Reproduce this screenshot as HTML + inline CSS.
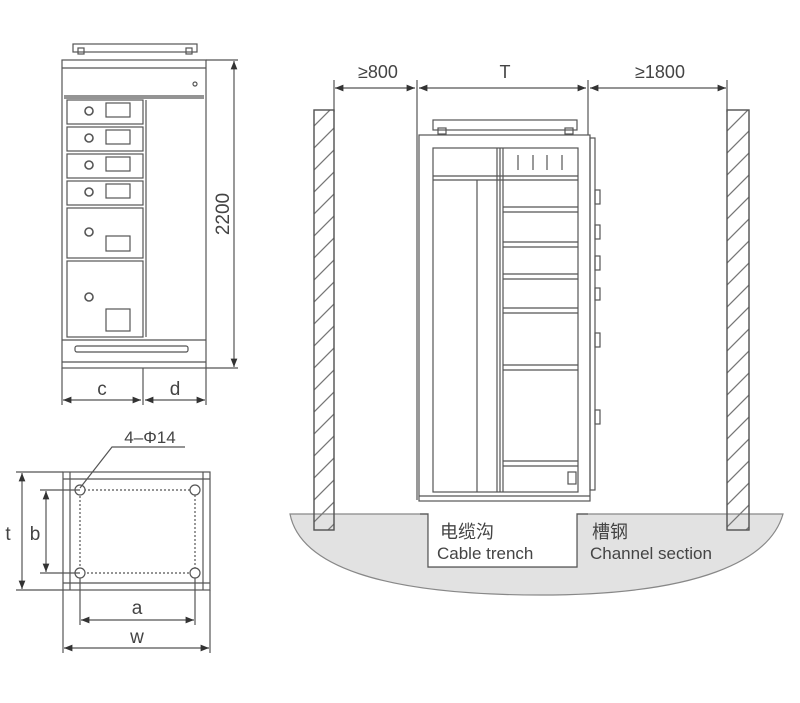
<!DOCTYPE html>
<html><head><meta charset="utf-8"><style>
html,body{margin:0;padding:0;background:#fff;width:800px;height:703px;overflow:hidden}
svg text{font-family:"Liberation Sans","Noto Sans CJK SC",sans-serif;fill:#444}
</style></head><body>
<svg width="800" height="703" viewBox="0 0 800 703" xmlns="http://www.w3.org/2000/svg">
<defs>
<marker id="ar" viewBox="0 0 10 10" refX="10" refY="5" markerWidth="7" markerHeight="7" orient="auto-start-reverse"><path d="M0,1 L10,5 L0,9 z" fill="#333"/></marker>
<pattern id="hatch" patternUnits="userSpaceOnUse" width="22" height="22">
<path d="M0,22 L22,0 M-11,11 L11,-11 M11,33 L33,11" stroke="#777" stroke-width="1.3"/>
</pattern>
</defs>
<g stroke="#555" stroke-width="1.2" fill="none">

<!-- ===== Left front cabinet ===== -->
<rect x="73" y="44" width="124" height="8" fill="#fff"/>
<rect x="78" y="48" width="6" height="6"/><rect x="186" y="48" width="6" height="6"/>
<rect x="62" y="60" width="144" height="308" fill="#fff"/>
<line x1="62" y1="68" x2="206" y2="68"/>
<line x1="64" y1="96" x2="204" y2="96"/>
<line x1="64" y1="98" x2="204" y2="98"/>
<circle cx="195" cy="84" r="2"/>
<rect x="67" y="100" width="76" height="24"/>
<rect x="67" y="127" width="76" height="24"/>
<rect x="67" y="154" width="76" height="24"/>
<rect x="67" y="181" width="76" height="24"/>
<rect x="67" y="208" width="76" height="50"/>
<rect x="67" y="261" width="76" height="76"/>
<line x1="146" y1="100" x2="146" y2="337"/>
<rect x="106" y="103" width="24" height="14"/>
<rect x="106" y="130" width="24" height="14"/>
<rect x="106" y="157" width="24" height="14"/>
<rect x="106" y="184" width="24" height="14"/>
<rect x="106" y="236" width="24" height="15"/>
<rect x="106" y="309" width="24" height="22"/>
<g stroke-width="1.6">
<circle cx="89" cy="111" r="4"/><circle cx="89" cy="138" r="4"/><circle cx="89" cy="165" r="4"/><circle cx="89" cy="192" r="4"/><circle cx="89" cy="232" r="4"/><circle cx="89" cy="297" r="4"/>
</g>
<line x1="62" y1="340" x2="206" y2="340"/>
<rect x="75" y="346" width="113" height="6" rx="2"/>
<line x1="62" y1="362" x2="206" y2="362"/>
<line x1="206" y1="60" x2="238" y2="60"/>
<line x1="206" y1="368" x2="238" y2="368"/>
<line x1="234" y1="61" x2="234" y2="367" marker-start="url(#ar)" marker-end="url(#ar)"/>
<line x1="62" y1="368" x2="62" y2="405"/>
<line x1="143" y1="368" x2="143" y2="405"/>
<line x1="206" y1="368" x2="206" y2="405"/>
<line x1="63" y1="400" x2="141" y2="400" marker-start="url(#ar)" marker-end="url(#ar)"/>
<line x1="145" y1="400" x2="205" y2="400" marker-start="url(#ar)" marker-end="url(#ar)"/>

<!-- ===== Plan view ===== -->
<rect x="63" y="472" width="147" height="118"/>
<line x1="70" y1="472" x2="70" y2="590"/>
<line x1="203" y1="472" x2="203" y2="590"/>
<line x1="63" y1="479" x2="210" y2="479"/>
<line x1="63" y1="583" x2="210" y2="583"/>
<rect x="80" y="490" width="115" height="83" stroke-dasharray="2,2"/>
<circle cx="80" cy="490" r="5" fill="#fff"/><circle cx="195" cy="490" r="5" fill="#fff"/>
<circle cx="80" cy="573" r="5" fill="#fff"/><circle cx="195" cy="573" r="5" fill="#fff"/>
<polyline points="80,488 112,447 185,447"/>
<line x1="16" y1="472" x2="63" y2="472"/><line x1="16" y1="590" x2="63" y2="590"/>
<line x1="22" y1="473" x2="22" y2="589" marker-start="url(#ar)" marker-end="url(#ar)"/>
<line x1="40" y1="490" x2="80" y2="490"/><line x1="40" y1="573" x2="80" y2="573"/>
<line x1="46" y1="491" x2="46" y2="572" marker-start="url(#ar)" marker-end="url(#ar)"/>
<line x1="80" y1="578" x2="80" y2="625"/><line x1="195" y1="578" x2="195" y2="625"/>
<line x1="81" y1="620" x2="194" y2="620" marker-start="url(#ar)" marker-end="url(#ar)"/>
<line x1="63" y1="590" x2="63" y2="653"/><line x1="210" y1="590" x2="210" y2="653"/>
<line x1="64" y1="648" x2="209" y2="648" marker-start="url(#ar)" marker-end="url(#ar)"/>

<!-- ===== Right side view ===== -->
<path d="M290,514 L428,514 L428,567 L577,567 L577,514 L783,514 C770,560 700,595 540,595 C380,595 300,565 290,514 z" fill="#e2e2e2" stroke="#888"/>
<path d="M420,514 L428,514 L428,567 L577,567 L577,514 L588,514" fill="#fff" stroke="#555"/>
<rect x="314" y="110" width="20" height="420" fill="url(#hatch)"/>
<rect x="727" y="110" width="22" height="420" fill="url(#hatch)"/>
<line x1="334" y1="80" x2="334" y2="112"/>
<line x1="417" y1="80" x2="417" y2="500"/>
<line x1="588" y1="80" x2="588" y2="140"/>
<line x1="727" y1="80" x2="727" y2="112"/>
<line x1="335" y1="88" x2="415" y2="88" marker-start="url(#ar)" marker-end="url(#ar)"/>
<line x1="419" y1="88" x2="586" y2="88" marker-start="url(#ar)" marker-end="url(#ar)"/>
<line x1="590" y1="88" x2="726" y2="88" marker-start="url(#ar)" marker-end="url(#ar)"/>
<rect x="433" y="120" width="144" height="10" fill="#fff"/>
<rect x="438" y="128" width="8" height="6"/><rect x="565" y="128" width="8" height="6"/>
<rect x="419" y="135" width="171" height="366" fill="#fff"/>
<line x1="419" y1="496" x2="590" y2="496"/>
<rect x="433" y="148" width="145" height="344"/>
<line x1="433" y1="176" x2="578" y2="176"/>
<line x1="433" y1="180" x2="578" y2="180"/>
<line x1="477" y1="180" x2="477" y2="492"/>
<line x1="497" y1="148" x2="497" y2="492"/>
<line x1="500" y1="148" x2="500" y2="492"/>
<line x1="503" y1="148" x2="503" y2="492"/>
<line x1="518" y1="155" x2="518" y2="170"/><line x1="533" y1="155" x2="533" y2="170"/><line x1="547" y1="155" x2="547" y2="170"/><line x1="562" y1="155" x2="562" y2="170"/>
<g>
<line x1="503" y1="207" x2="578" y2="207"/><line x1="503" y1="212" x2="578" y2="212"/>
<line x1="503" y1="242" x2="578" y2="242"/><line x1="503" y1="247" x2="578" y2="247"/>
<line x1="503" y1="274" x2="578" y2="274"/><line x1="503" y1="279" x2="578" y2="279"/>
<line x1="503" y1="308" x2="578" y2="308"/><line x1="503" y1="313" x2="578" y2="313"/>
<line x1="503" y1="365" x2="578" y2="365"/><line x1="503" y1="370" x2="578" y2="370"/>
<line x1="503" y1="461" x2="578" y2="461"/><line x1="503" y1="466" x2="578" y2="466"/>
</g>
<rect x="568" y="472" width="8" height="12"/>
<rect x="590" y="138" width="5" height="352"/>
<rect x="595" y="190" width="5" height="14"/><rect x="595" y="225" width="5" height="14"/>
<rect x="595" y="256" width="5" height="14"/><rect x="595" y="288" width="5" height="12"/>
<rect x="595" y="333" width="5" height="14"/><rect x="595" y="410" width="5" height="14"/>
</g>
<g stroke="#555" stroke-width="1.3" fill="none">
<rect x="314" y="110" width="20" height="420"/>
<rect x="727" y="110" width="22" height="420"/>
</g>
<text x="224" y="214" font-size="19" text-anchor="middle" transform="rotate(-90 224 214)" dominant-baseline="middle">2200</text>
<text x="102" y="395" font-size="19" text-anchor="middle">c</text>
<text x="175" y="395" font-size="19" text-anchor="middle">d</text>
<text x="150" y="443" font-size="17" text-anchor="middle">4–Φ14</text>
<text x="8" y="540" font-size="19" text-anchor="middle">t</text>
<text x="35" y="540" font-size="19" text-anchor="middle">b</text>
<text x="137" y="614" font-size="19" text-anchor="middle">a</text>
<text x="137" y="643" font-size="19" text-anchor="middle">w</text>
<text x="378" y="78" font-size="18" text-anchor="middle">≥800</text>
<text x="505" y="78" font-size="18" text-anchor="middle">T</text>
<text x="660" y="78" font-size="18" text-anchor="middle">≥1800</text>
<text x="440" y="538" font-size="18">电缆沟</text>
<text x="437" y="559" font-size="17">Cable trench</text>
<text x="592" y="538" font-size="18">槽钢</text>
<text x="590" y="559" font-size="17">Channel section</text>
</svg>
</body></html>
